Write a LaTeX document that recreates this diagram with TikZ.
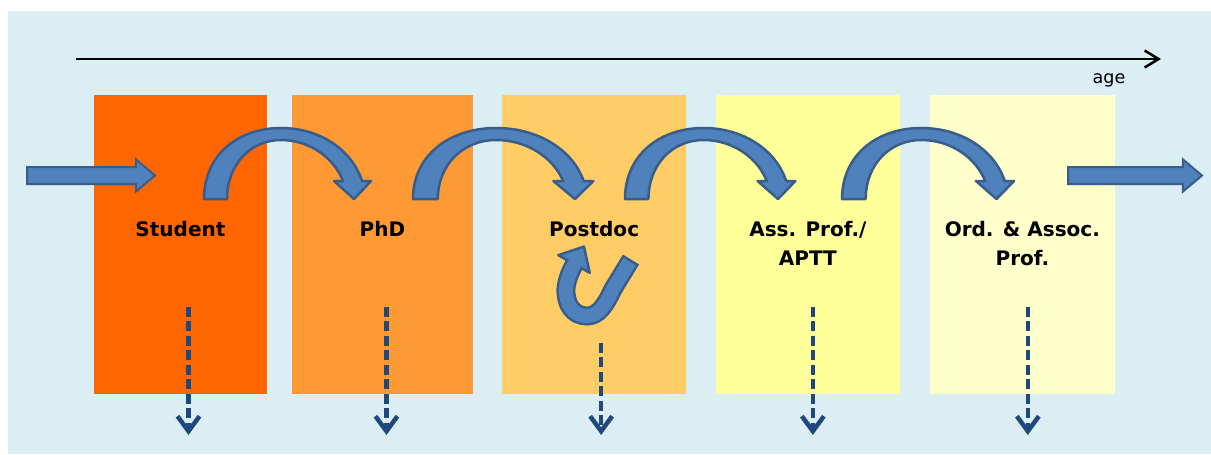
\documentclass[tikz,border=0pt]{standalone}
\usepackage{fontspec}
\setmainfont{DejaVu Sans}
\usetikzlibrary{shapes.arrows,
                arrows.meta,
                positioning}

\definecolor{bgblue}{RGB}{218,238,243}
\definecolor{stageA}{RGB}{255,102,0}
\definecolor{stageB}{RGB}{255,153,51}
\definecolor{stageC}{RGB}{255,204,102}
\definecolor{stageD}{RGB}{255,255,153}
\definecolor{stageE}{RGB}{255,255,204}
\definecolor{hopfill}{RGB}{79,129,189}
\definecolor{hopedge}{RGB}{56,93,138}
\definecolor{exitblue}{RGB}{31,73,125}

\tikzset{stage/.style=
   {rectangle,
    inner sep=0pt,
    minimum height=5.98cm}}
\tikzset{stagetext/.style=
   {font=\bfseries\fontsize{11.4}{16.5}\selectfont,
    align=center,
    inner sep=0pt}}
\tikzset{exitarrow/.style = {draw=exitblue, line width=0.09cm,
    dash pattern=on 0.2cm off 0.09cm,
    -{Straight Barb[length=0.3cm, width=0.44cm]}}}
\tikzset{bigarrow/.style=
   {single arrow,
    fill=hopfill,
    draw=hopedge,
    line width=0.04cm,
    inner xsep=0pt,
    inner ysep=0.15cm,
    minimum width=0.6cm,
    single arrow head extend=0.15cm,
    single arrow tip angle=80}}
\tikzset{hop/.pic={
    \filldraw[fill=hopfill, draw=hopedge, line width=0.05cm, line join=round]
      (0,0) .. controls (0,-44) and (34,-71) .. (77,-71)
      .. controls (116,-71) and (148,-49) .. (158,-18)
      -- (167,-18) -- (150,0) -- (130,-18) -- (139,-18)
      .. controls (130,-41) and (106,-59) .. (77,-59)
      .. controls (46,-59) and (23,-34) .. (23,0) -- cycle;}}

\begin{document}
\begin{tikzpicture}[x=0.02cm, y=-0.02cm]

    % Frame
    \useasboundingbox (0,0) rectangle (1211,454);
    \fill[bgblue] (8,11) rectangle (1211,454);

    % Age axis
    \coordinate (agestart) at (76,59);
    \coordinate (ageend) at (1161,59);
    \draw [line width=0.05cm, -{Straight Barb[length=0.28cm, width=0.34cm]}]
    (agestart) -- (ageend);
    \node [font=\fontsize{10}{12}\selectfont, inner sep=0pt] (age) at (1109,80) {age};

    % Blocks
    \node [stage, fill=stageA, minimum width=3.46cm] (student) at (180.5,244.5) {};
    \node [stage, fill=stageB, minimum width=3.62cm, right of=student, node distance=4.04cm] (phd) {};
    \node [stage, fill=stageC, minimum width=3.68cm, right of=phd, node distance=4.235cm] (postdoc) {};
    \node [stage, fill=stageD, minimum width=3.68cm, right of=postdoc, node distance=4.275cm] (asspro) {};
    \node [stage, fill=stageE, minimum width=3.7cm, right of=asspro, node distance=4.29cm] (fullpro) {};

    % Labels
    \node [stagetext, below=2.52cm of student.north] (studenttxt) {Student};
    \node [stagetext, below=2.52cm of phd.north] (phdtxt) {PhD};
    \node [stagetext, below=2.52cm of postdoc.north] (postdoctxt) {Postdoc};
    \node [stagetext, below=2.52cm of asspro.north] (assprotxt) {Ass. Prof./\\APTT};
    \node [stagetext, below=2.52cm of fullpro.north] (fullprotxt) {Ord. \& Assoc.\\Prof.};

    % Way in and way out
    \node [bigarrow, minimum height=2.56cm] (inarrow) at (86,175.5) {};
    \node [bigarrow, minimum height=2.68cm] (outarrow) at (1130,175.5) {};

    % Hops between stages
    \pic at (204,199) {hop};
    \pic [xscale=1.08] at (413,199) {hop};
    \pic [xscale=1.02] at (625,199) {hop};
    \pic [xscale=1.03] at (842,199) {hop};

    % Second postdoc
    \draw [hopedge, line width=0.38cm]
    (631,259.5) -- (613,289) .. controls (605,306) and (598,316) .. (587,316)
    .. controls (573,316) and (565,304) .. (566,288)
    .. controls (567,280) and (570,272) .. (574,265);
    \filldraw [fill=hopfill, draw=hopedge, line width=0.05cm, line join=round]
    (558.3,255.2) -- (584,246.6) -- (589.7,272.8) -- cycle;
    \draw [hopfill, line width=0.28cm, shorten <=0.05cm]
    (631,259.5) -- (613,289) .. controls (605,306) and (598,316) .. (587,316)
    .. controls (573,316) and (565,304) .. (566,288)
    .. controls (567,280) and (570,272) .. (574,265) -- (575.5,262.5);

    % Leaving academia
    \draw [exitarrow] ([xshift=0.16cm, yshift=-1.25cm]student.center) -- ++(0,128);
    \draw [exitarrow] ([xshift=0.08cm, yshift=-1.25cm]phd.center) -- ++(0,128);
    \draw [exitarrow] ([xshift=0.14cm, yshift=-1.97cm]postdoc.center) -- ++(0,92);
    \draw [exitarrow] ([xshift=0.1cm, yshift=-1.25cm]asspro.center) -- ++(0,128);
    \draw [exitarrow] ([xshift=0.11cm, yshift=-1.25cm]fullpro.center) -- ++(0,128);

\end{tikzpicture}
\end{document}
